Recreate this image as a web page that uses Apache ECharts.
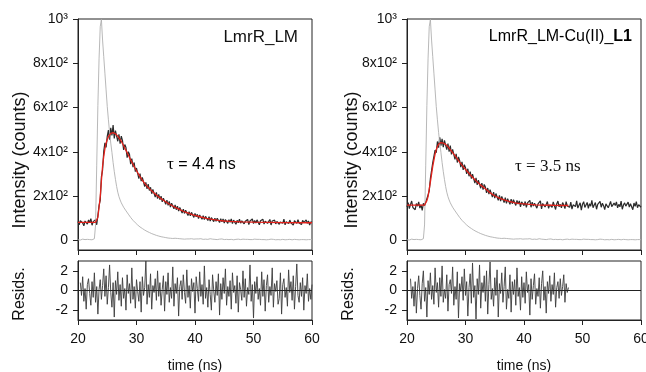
<!DOCTYPE html>
<html><head><meta charset="utf-8">
<script src="https://cdn.jsdelivr.net/npm/echarts@6/dist/echarts.min.js"></script>
<style>html,body{margin:0;padding:0;background:#fff}#c{width:646px;height:372px}</style>
</head><body><div id="c"></div>
<script>
// sampling grid of the measured curves (ns)
const T0 = 20, DT = 0.2;

// measured decay, LmrR_LM (counts)
const decayLM = [
86,71,90,95,79,66,88,83,74,93,
80,99,69,85,76,94,71,114,158,181,
287,318,402,441,420,470,498,455,509,474,
521,461,496,503,448,479,437,471,452,409,
433,420,374,401,389,345,370,331,352,311,
327,321,279,302,268,285,276,243,262,233,
254,226,240,211,231,225,196,217,189,208,
184,200,174,191,186,163,182,159,176,151,
168,160,143,161,139,155,133,149,144,124,
141,122,137,131,113,130,111,127,121,104,
122,107,118,99,115,111,96,112,94,109,
105,90,107,88,103,99,85,101,87,100,
96,81,98,84,97,79,95,91,77,94,
82,97,76,92,88,73,91,80,96,78,
89,93,75,87,81,95,72,88,84,97,
76,90,79,93,85,71,89,82,96,74,
87,91,77,84,95,70,88,81,92,75,
86,94,73,83,90,78,96,71,85,88,
76,92,80,87,69,90,83,77,94,79,
86,72,91,81,75,93,78,88,70,84,
82];

// measured decay, LmrR_LM-Cu(II)_L1 (counts)
const decayCu = [
152,171,144,163,178,149,158,139,167,155,
174,146,161,136,168,157,151,189,206,224,
281,289,352,349,408,396,447,419,466,428,
459,421,452,443,410,437,401,428,389,411,
402,366,391,352,377,361,331,355,319,342,
328,301,324,290,311,279,299,290,259,283,
251,272,263,236,259,230,253,241,215,237,
209,229,220,196,218,191,212,203,181,204,
178,199,192,171,194,168,189,183,163,187,
166,184,178,158,181,164,179,152,174,183,
157,176,149,170,162,181,150,173,155,168,
177,146,165,158,179,143,167,172,151,163,
176,145,161,169,149,174,157,140,166,178,
152,163,147,171,160,144,175,156,165,150,
173,142,161,168,153,179,146,159,170,137,
164,175,149,158,172,145,166,155,181,148,
160,171,141,163,154,177,150,168,157,139,
165,172,148,161,176,153,144,169,158,174,
147,163,152,178,141,160,170,155,146,173,
151,166,158,139,169,154,175,148,162,157,
150];

// instrument response (grey), counts
const irf = [
3,5,2,4,6,3,4,2,5,3,
4,6,3,4,8,70,340,610,820,965,
998,905,830,755,680,605,545,488,440,398,
352,312,276,244,218,198,183,170,160,150,
141,134,126,119,111,104,98,91,86,80,
75,70,66,61,57,54,50,47,44,41,
38,36,33,31,29,27,25,23,22,20,
18,17,16,15,14,13,12,11,11,10,
9,9,8,10,8,9,7,8,9,7,
8,6,8,7,9,7,6,8,7,6,
8,7,5,7,6,8,6,5,7,6,
7,5,6,8,5,6,7,5,6,4,
7,6,5,7,5,4,6,5,7,4,
6,5,5,3,6,5,4,6,5,4,
5,6,4,5,3,5,6,4,5,4,
3,6,4,5,4,5,3,4,6,4,
5,3,5,4,4,6,3,5,4,3,
5,4,5,3,4,5,4,3,5,4,
3,5,4,3,4,5,3,4,4,3,
5,4,3,4,5,3,4,4,3,4,
3];

// fitted curves (red), [time ns, counts]
const fitLM = [[20,82],[23.0,82],[23.2,85],[23.4,105],[23.6,150],[23.8,198],[24.0,270],[24.2,335],[24.4,380],[24.6,415],[24.8,439],[25.0,456],[25.2,469],[25.4,478],[25.6,484],[25.8,487],[26.0,487],[26.2,486],[26.4,482],[26.6,477],[26.8,471],[27.0,464],[27.4,448],[27.8,428],[28.2,407],[28.6,386],[29.0,364],[29.4,344],[29.8,324],[30.2,306],[30.6,288],[31.0,272],[31.4,258],[31.8,245],[32.2,234],[32.6,224],[33.0,214],[33.4,205],[33.8,196],[34.2,189],[34.6,182],[35.0,175],[35.5,166],[36.0,159],[36.5,151],[37.0,145],[37.5,138],[38.0,132],[38.5,127],[39.0,122],[39.5,117],[40.0,113],[41,106],[42,100],[43,95],[44,91],[45,88],[46,86],[47,85],[48,84],[50,83],[55,81],[60,80]];
const fitCu = [[20,160],[23.0,160],[23.2,165],[23.4,180],[23.6,198],[23.8,232],[24.0,265],[24.2,300],[24.4,335],[24.6,363],[24.8,390],[25.0,410],[25.2,424],[25.4,434],[25.6,440],[25.8,442],[26.0,442],[26.2,440],[26.4,437],[26.6,434],[26.8,430],[27.0,424],[27.4,410],[27.8,397],[28.2,383],[28.6,368],[29.0,354],[29.4,340],[29.8,327],[30.2,315],[30.6,303],[31.0,291],[31.4,280],[31.8,269],[32.2,259],[32.6,250],[33.0,242],[33.4,234],[33.8,225],[34.2,216],[34.6,208],[35.0,202],[35.5,195],[36.0,189],[36.5,184],[37.0,180],[37.5,176],[38.0,173],[38.5,170],[39.0,168],[39.5,166],[40,165],[41,163],[42,161],[43,160],[45,159],[47.6,158]];

// residuals
const RES_LM_T0 = 20.4;
const residLM = [
0.8,-0.5,1.4,-1.1,0.2,-1.9,0.6,1.2,-0.3,-1.5,
0.9,-0.7,1.8,-1.2,0.4,-2.4,0.1,1.1,-0.9,0.5,
2.2,-0.6,1.5,-1.4,0.3,2.6,-0.2,-1.7,0.8,-2.7,
1.0,-0.4,1.9,-1.0,0.6,-1.6,1.3,-0.8,0.2,-2.0,
1.6,-0.3,0.7,-1.3,2.3,-0.9,0.4,-1.8,1.1,-0.1,
-1.1,0.9,-2.2,1.4,-0.5,0.3,3.0,-1.4,0.6,-0.7,
1.7,-1.9,0.5,-0.2,1.2,-1.0,2.0,-0.6,0.8,-1.5,
0.1,1.5,-2.1,0.9,-0.4,1.8,-1.2,0.3,-0.8,2.4,
-1.6,0.7,-0.3,1.3,-2.6,0.4,1.0,-0.9,1.6,-0.2,
-1.3,2.1,-0.7,0.5,-1.8,1.2,-0.1,0.8,-2.3,1.4,
0.2,-1.1,1.9,-0.6,0.6,-1.4,2.5,-0.8,0.3,-1.7,
1.1,-0.4,-2.0,1.6,0.0,-1.2,0.9,-0.5,1.7,-2.5,
0.7,-0.9,1.3,-0.3,2.2,-1.5,0.4,-0.6,1.0,-1.9,
1.8,-0.2,0.5,-1.3,1.5,-2.2,0.8,0.1,-1.0,2.0,
-0.7,1.2,-1.6,0.3,-0.4,2.6,-1.1,0.6,-2.8,0.9,
-0.3,1.4,-0.9,0.2,-1.5,1.9,-0.6,1.1,-2.1,0.5,
1.6,-1.2,0.4,-0.5,2.3,-1.7,0.7,-0.1,1.0,-1.4,
-0.8,1.8,-2.4,0.6,1.2,-0.7,0.3,-1.6,2.1,-0.2,
0.9,-1.0,1.5,-1.9,0.4,2.7,-0.5,-1.2,0.8,-0.6,
1.3,-2.0,0.5,-0.3,1.7,-1.1,0.2,-0.9,0.6];
const RES_CU_T0 = 20.6;
const residCu = [
1.2,-0.8,0.4,-1.6,0.9,-2.3,0.2,1.5,-0.5,-1.9,
0.7,2.0,-1.1,0.3,-2.7,1.0,-0.4,1.8,-0.9,0.5,
-1.4,2.3,-0.2,0.8,-1.7,1.3,-0.6,2.5,-1.2,0.1,
-0.8,1.6,-2.1,0.6,1.1,-0.3,2.4,-1.5,0.4,-0.9,
1.9,-2.8,0.7,-0.1,1.4,-1.0,2.2,-0.5,0.9,-2.6,
0.3,1.7,-1.3,2.8,-0.7,0.5,-2.9,1.2,-0.4,2.6,
-1.8,0.8,-0.2,1.5,-1.1,2.0,-2.4,0.6,2.9,-0.9,
0.2,-1.6,1.3,-0.5,2.1,-2.7,0.7,-0.3,1.8,-1.2,
0.4,2.4,-1.9,0.1,-0.8,1.6,-2.2,0.9,-0.4,1.1,
-1.5,2.3,-0.6,0.3,-2.0,1.4,-0.7,0.8,-1.3,1.9,
-0.2,0.6,-2.5,1.2,-0.9,0.5,1.7,-1.4,0.2,-0.6,
1.3,-1.8,0.7,2.0,-1.0,0.4,-2.3,0.9,-0.3,1.5,
-1.1,0.6,-0.4,1.8,-1.7,0.3,0.9,-0.8,1.2,-0.5,
0.4,1.6,-1.2,0.7,-0.2,0.3];

// axis ticks
const yTickValues = [0, 200, 400, 600, 800, 1000];
const yTickLabels = ['0', '2x10\u00b2', '4x10\u00b2', '6x10\u00b2', '8x10\u00b2', '10\u00b3'];
const rTickValues = [-2, 0, 2];
const rTickLabels = ['-2', '0', '2'];
const xMin = 20, xMax = 60, xStep = 10;

// texts
const panelTitles = ['LmrR_LM', 'LmrR_LM-Cu(II)_', 'L1'];
const tauLMText = ['\u03c4', ' = 4.4 ns'];
const tauCuText = '\u03c4 = 3.5 ns';

function pairs(arr, t0) { return arr.map((v, i) => [+(t0 + i * DT).toFixed(2), v]); }

const SANS = "'Liberation Sans', Arial, Helvetica, sans-serif";
const SERIF = "'Liberation Serif', 'Times New Roman', serif";
const AX = '#222';

function grid(left, top, height) {
  return { left: left, top: top, width: 234, height: height, show: true, borderColor: AX, borderWidth: 1,
           backgroundColor: 'transparent', containLabel: false, outerBoundsMode: 'none' };
}
function xAxis(gi, labels) {
  return { type: 'value', gridIndex: gi, min: xMin, max: xMax, interval: xStep,
    axisLine: { show: true, onZero: false, lineStyle: { color: AX, width: 1 } },
    axisTick: { show: true, length: 5, lineStyle: { color: AX } },
    axisLabel: { show: labels, fontSize: 14, color: '#111', fontFamily: SANS, margin: 12 },
    splitLine: { show: false } };
}
function yAxisMain(gi) {
  return { type: 'value', gridIndex: gi, min: -43, max: 1000,
    axisLine: { show: true, onZero: false, lineStyle: { color: AX, width: 1 } },
    axisTick: { show: true, length: 5, customValues: yTickValues, lineStyle: { color: AX } },
    axisLabel: { show: true, customValues: yTickValues, fontSize: 14, color: '#111', fontFamily: SANS, margin: 10,
      formatter: v => yTickLabels[yTickValues.indexOf(v)] },
    splitLine: { show: false } };
}
function yAxisRes(gi) {
  return { type: 'value', gridIndex: gi, min: -3, max: 3,
    axisLine: { show: true, onZero: false, lineStyle: { color: AX, width: 1 } },
    axisTick: { show: true, length: 5, customValues: rTickValues, lineStyle: { color: AX } },
    axisLabel: { show: true, customValues: rTickValues, fontSize: 14, color: '#111', fontFamily: SANS, margin: 10,
      formatter: v => rTickLabels[rTickValues.indexOf(v)] },
    splitLine: { show: false } };
}
function line(name, data, xi, yi, color, width, z) {
  return { name: name, type: 'line', xAxisIndex: xi, yAxisIndex: yi, data: data, showSymbol: false, symbol: 'none',
    lineStyle: { color: color, width: width }, z: z, silent: true, animation: false };
}
function resid(data, xi, yi) {
  const s = line('resid', data, xi, yi, '#3c3c3c', 0.9, 3);
  s.markLine = { silent: true, symbol: 'none', label: { show: false },
    lineStyle: { color: '#222', width: 1, type: 'solid' }, data: [{ yAxis: 0 }], animation: false };
  return s;
}

const chart = echarts.init(document.getElementById('c'), null, { renderer: 'canvas' });
chart.setOption({
  animation: false,
  backgroundColor: '#fff',
  grid: [grid(78, 19, 231), grid(78, 261, 59), grid(407, 19, 231), grid(407, 261, 59)],
  xAxis: [xAxis(0, false), xAxis(1, true), xAxis(2, false), xAxis(3, true)],
  yAxis: [yAxisMain(0), yAxisRes(1), yAxisMain(2), yAxisRes(3)],
  series: [
    line('decay LM', pairs(decayLM, T0), 0, 0, '#2a2a2a', 1.2, 2),
    line('IRF LM', pairs(irf, T0), 0, 0, '#b0b0b0', 0.9, 3),
    line('fit LM', fitLM, 0, 0, '#e3211b', 1.3, 4),
    resid(pairs(residLM, RES_LM_T0), 1, 1),
    line('decay Cu', pairs(decayCu, T0), 2, 2, '#2a2a2a', 1.2, 2),
    line('IRF Cu', pairs(irf, T0), 2, 2, '#b0b0b0', 0.9, 3),
    line('fit Cu', fitCu, 2, 2, '#e3211b', 1.3, 4),
    resid(pairs(residCu, RES_CU_T0), 3, 3)
  ],
  graphic: [
    { type: 'text', x: 20, y: 160, rotation: Math.PI / 2, style: { text: 'Intensity (counts)', font: '18px ' + SANS, fill: '#111', textAlign: 'center', textVerticalAlign: 'middle' } },
    { type: 'text', x: 352, y: 160, rotation: Math.PI / 2, style: { text: 'Intensity (counts)', font: '18px ' + SANS, fill: '#111', textAlign: 'center', textVerticalAlign: 'middle' } },
    { type: 'text', x: 20, y: 294, rotation: Math.PI / 2, style: { text: 'Resids.', font: '16px ' + SANS, fill: '#111', textAlign: 'center', textVerticalAlign: 'middle' } },
    { type: 'text', x: 349, y: 294, rotation: Math.PI / 2, style: { text: 'Resids.', font: '16px ' + SANS, fill: '#111', textAlign: 'center', textVerticalAlign: 'middle' } },
    { type: 'text', x: 195, y: 366, style: { text: 'time (ns)', font: '14px ' + SANS, fill: '#111', textAlign: 'center', textVerticalAlign: 'middle' } },
    { type: 'text', x: 524, y: 366, style: { text: 'time (ns)', font: '14px ' + SANS, fill: '#111', textAlign: 'center', textVerticalAlign: 'middle' } },
    { type: 'text', x: 298, y: 37, style: { text: panelTitles[0], font: '17px ' + SANS, fill: '#111', textAlign: 'right', textVerticalAlign: 'middle' } },
    { type: 'text', x: 632, y: 37, style: { text: '{n|' + panelTitles[1] + '}{b|' + panelTitles[2] + '}', textAlign: 'right', textVerticalAlign: 'middle',
        rich: { n: { fontSize: 16, fontFamily: SANS, color: '#111' }, b: { fontSize: 16, fontFamily: SANS, fontWeight: 'bold', color: '#111' } } } },
    { type: 'text', x: 167, y: 165, style: { text: '{g|' + tauLMText[0] + '}{s|' + tauLMText[1] + '}', textAlign: 'left', textVerticalAlign: 'middle',
        rich: { g: { fontSize: 17, fontFamily: SERIF, color: '#111' }, s: { fontSize: 16, fontFamily: SANS, color: '#111' } } } },
    { type: 'text', x: 515, y: 167, style: { text: tauCuText, font: '17px ' + SERIF, fill: '#111', textAlign: 'left', textVerticalAlign: 'middle' } }
  ]
});
</script></body></html>
